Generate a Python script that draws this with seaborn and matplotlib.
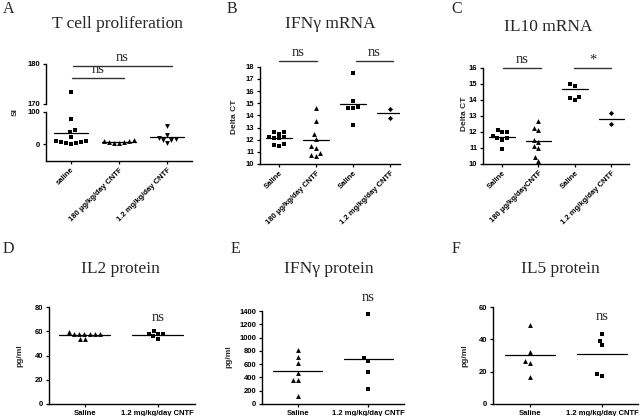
import seaborn as sns
import matplotlib.pyplot as plt
import pandas as pd

# A - T cell proliferation (SI), broken y axis
a_labels = ["saline", "180 µg/kg/day CNTF", "1.2 mg/kg/day CNTF"]
a_saline = [173, 79, 43, 37, 22, 11, 7, 4, 2, 1, 6, 8]
a_cntf180 = [10, 7, 3, 2, 5, 8, 14]
a_cntf12 = [57, 27, 16, 20, 14, 13, 3]
a_means = [35, 7, 21]

# B - IFNγ mRNA (Delta CT)
b_labels = ["Saline", "180 µg/kg/day CNTF", "Saline", "1.2 mg/kg/day CNTF"]
b_saline1 = [12.6, 12.65, 12.5, 12.2, 12.1, 12.1, 12.2, 11.65, 11.5, 11.6]
b_cntf180 = [14.6, 13.56, 12.45, 12.07, 11.45, 11.28, 10.93, 10.66, 10.77]
b_saline2 = [17.5, 15.15, 14.6, 14.58, 14.68, 13.2]
b_cntf12 = [14.56, 13.8]
b_means = [12.1, 11.98, 14.97, 14.2]

# C - IL10 mRNA (Delta CT)
c_labels = ["Saline", "180 µg/kg/dayCNTF", "Saline", "1.2 mg/kg/day CNTF"]
c_saline1 = [12.12, 11.97, 11.97, 11.62, 11.5, 11.62, 11.75, 10.93]
c_cntf180 = [12.7, 12.26, 12.12, 11.5, 11.37, 11.1, 11.0, 10.42, 10.19]
c_saline2 = [14.98, 14.86, 14.16, 14.01, 14.11]
c_cntf12 = [13.16, 12.47]
c_means = [11.66, 11.43, 14.67, 12.8]

# D - IL2 protein (pg/ml)
d_labels = ["Saline", "1.2 mg/kg/day CNTF"]
d_saline = [57.5, 57.5, 57.5, 59, 57.5, 57.5, 57.5, 53.5, 53.5]
d_cntf = [58, 58, 60.2, 55.7, 53.7, 58]
d_means = [56.9, 56.9]

# E - IFNγ protein (pg/ml)
e_labels = ["Saline", "1.2 mg/kg/day CNTF"]
e_saline = [812, 712, 622, 462, 361, 361, 125]
e_cntf = [1350, 688, 647, 486, 226]
e_means = [497, 672]

# F - IL5 protein (pg/ml)
f_labels = ["Saline", "1.2 mg/kg/day CNTF"]
f_saline = [48.9, 32, 26.6, 25.6, 16.9]
f_cntf = [43.3, 39.2, 36.5, 17.3, 18.6]
f_means = [30.3, 30.9]

sns.set_style("ticks")
plt.rcParams["font.family"] = ["Liberation Sans", "DejaVu Sans"]
plt.rcParams["font.weight"] = "bold"
SERIF = ["Liberation Serif", "DejaVu Serif"]

W, H = 640, 416
fig = plt.figure(figsize=(6.4, 4.16), dpi=100)


def box(x0, y0, x1, y1):
    # pixel box -> figure fraction
    return [x0 / W, 1 - y1 / H, (x1 - x0) / W, (y1 - y0) / H]


def style_axis(ax):
    sns.despine(ax=ax)
    for s in ["left", "bottom"]:
        ax.spines[s].set_linewidth(1.0)
        ax.spines[s].set_color("black")
    ax.tick_params(direction="out", length=2.5, width=0.9, labelsize=5.5,
                   pad=1.5, colors="black")
    ax.set_xlabel("")
    ax.set_ylabel("")


def dots(ax, labels, groups, markers, means, sizes):
    keys = ["g%d" % i for i in range(len(labels))]
    for key, vals, mk, sz in zip(keys, groups, markers, sizes):
        df = pd.DataFrame({"group": key, "value": vals})
        sns.swarmplot(data=df, x="group", y="value", order=keys, marker=mk,
                      color="black", size=sz, linewidth=0, ax=ax)
    for i, m in enumerate(means):
        ax.plot([i - 0.35, i + 0.35], [m, m], color="black", lw=0.9)
    ax.set_xticks(range(len(labels)))


def sig(ax, i, j, y, text, dy):
    ax.plot([i, j], [y, y], color="#333333", lw=1.0, clip_on=False)
    ax.text((i + j) / 2, y + dy, text, family=SERIF, weight="normal",
            fontsize=10.5, ha="center", va="bottom", clip_on=False)


def rot_labels(ax, labels):
    ax.set_xticklabels(labels, rotation=45, ha="right", va="top",
                       rotation_mode="anchor")


# ---- A: broken axis ----
a_groups = [a_saline, a_cntf180, a_cntf12]
a_marks = ["s", "^", "v"]
axA_lo = fig.add_axes(box(46, 112, 192, 161))
axA_hi = fig.add_axes(box(46, 64, 192, 104))
for ax in (axA_lo, axA_hi):
    dots(ax, a_labels, a_groups, a_marks, a_means, [3.5, 3.5, 3.5])
    ax.set_xlim(-0.52, 2.52)
    style_axis(ax)
axA_lo.set_ylim(-53, 100)
axA_lo.set_yticks([0, 100])
rot_labels(axA_lo, a_labels)
axA_hi.set_ylim(170, 180)
axA_hi.set_yticks([170, 180])
axA_hi.spines["bottom"].set_visible(False)
axA_hi.tick_params(axis="x", bottom=False, labelbottom=False)
sig(axA_hi, 0.02, 1.1, 176.5, "ns", 0.4)
sig(axA_hi, 0.04, 2.1, 179.5, "ns", 0.4)

# ---- B ----
axB = fig.add_axes(box(260, 66.7, 400, 164))
dots(axB, b_labels, [b_saline1, b_cntf180, b_saline2, b_cntf12],
     ["s", "^", "s", "D"], b_means, [3.5, 3.5, 3.5, 2.6])
axB.set_xlim(-0.51, 3.27)
axB.set_ylim(10, 18)
axB.set_yticks(range(10, 19))
style_axis(axB)
rot_labels(axB, b_labels)
sig(axB, 0, 1.03, 18.5, "ns", 0.15)
sig(axB, 2.08, 3.08, 18.5, "ns", 0.15)

# ---- C ----
axC = fig.add_axes(box(483, 67.7, 629, 164))
dots(axC, c_labels, [c_saline1, c_cntf180, c_saline2, c_cntf12],
     ["s", "^", "s", "D"], c_means, [3.5, 3.5, 3.5, 2.6])
axC.set_xlim(-0.52, 3.48)
axC.set_ylim(10, 16)
axC.set_yticks(range(10, 17))
style_axis(axC)
rot_labels(axC, c_labels)
sig(axC, 0.03, 1.07, 16.0, "ns", 0.08)
sig(axC, 1.97, 2.99, 16.0, "*", 0.08)

# ---- D, E, F ----
bottom_panels = [
    (box(49, 307, 195, 404), d_labels, [d_saline, d_cntf], d_means,
     (-0.49, 1.51), (0, 80), [0, 20, 40, 60, 80], 71),
    (box(262, 311, 404, 404), e_labels, [e_saline, e_cntf], e_means,
     (-0.51, 1.51), (0, 1400), list(range(0, 1401, 200)), 1600),
    (box(493, 307, 638, 404), f_labels, [f_saline, f_cntf], f_means,
     (-0.51, 1.50), (0, 60), [0, 20, 40, 60], 54.4),
]
for rect, labels, groups, means, xlim, ylim, yticks, ns_y in bottom_panels:
    ax = fig.add_axes(rect)
    dots(ax, labels, groups, ["^", "s"], means, [3.5, 3.5])
    ax.set_xlim(*xlim)
    ax.set_ylim(*ylim)
    ax.set_yticks(yticks)
    style_axis(ax)
    ax.set_xticklabels(labels)
    ax.text(1.0, ns_y, "ns", family=SERIF, weight="normal", fontsize=10.5,
            ha="center", va="center", clip_on=False)

# ---- titles, panel letters, y labels ----
titles = [("T cell proliferation", 117, 28), ("IFNγ mRNA", 330, 28),
          ("IL10 mRNA", 548, 31), ("IL2 protein", 120, 273),
          ("IFNγ protein", 329, 273), ("IL5 protein", 560, 273)]
for t, x, y in titles:
    fig.text(x / W, 1 - y / H, t, family=SERIF, weight="normal",
             fontsize=12.5, ha="center", va="baseline")

letters = [("A", 3, 13), ("B", 227, 13), ("C", 451, 13),
           ("D", 3, 253), ("E", 231, 253), ("F", 452, 253)]
for t, x, y in letters:
    fig.text(x / W, 1 - y / H, t, family=SERIF, weight="normal",
             fontsize=11.5, ha="left", va="baseline")

ylabels = [("SI", 15, 112.5), ("Delta CT", 234.5, 117), ("Delta CT", 464, 114),
           ("pg/ml", 20, 356), ("pg/ml", 229, 357), ("pg/ml", 464.5, 356)]
for t, x, y in ylabels:
    fig.text(x / W, 1 - y / H, t, fontsize=6, rotation=90,
             ha="center", va="center")

fig.savefig("out.png", dpi=100)
